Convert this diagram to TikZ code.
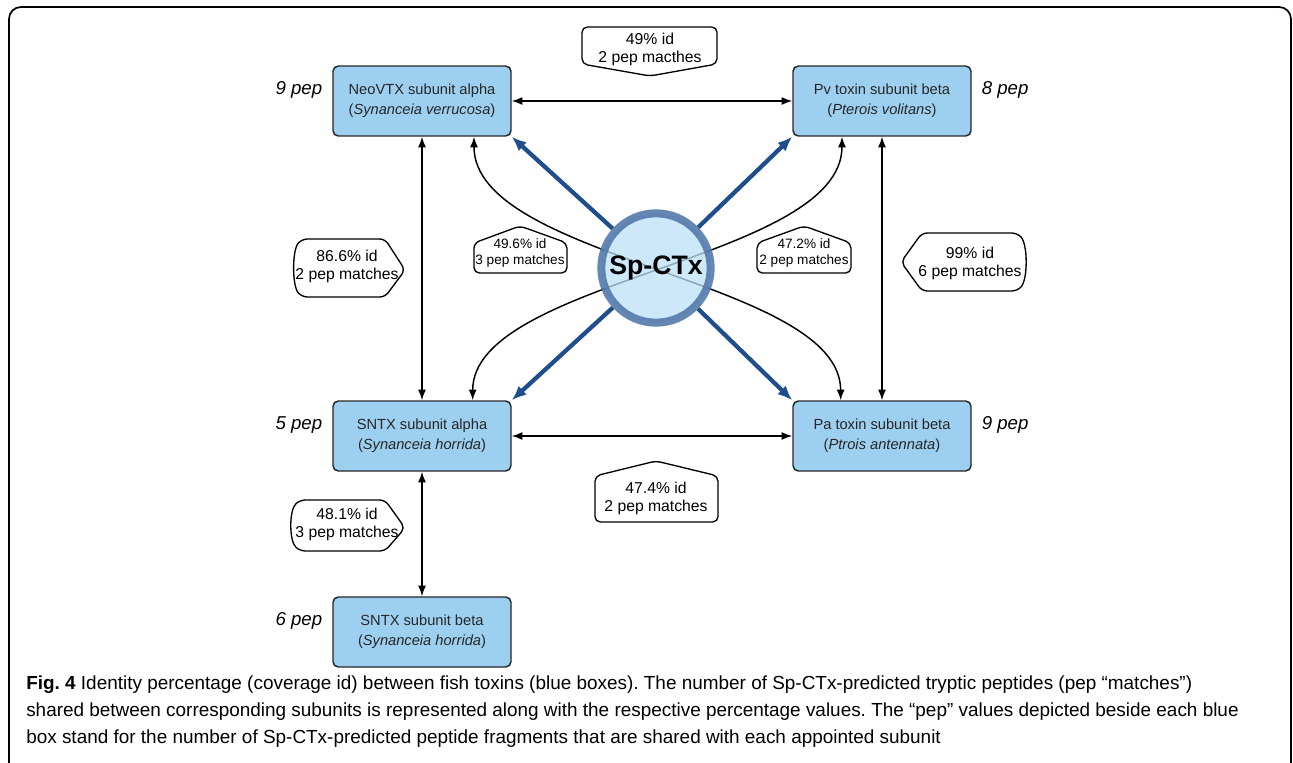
\documentclass[tikz,border=0pt]{standalone}
\usepackage{fontspec}
\setmainfont{Liberation Sans}
\usetikzlibrary{arrows.meta,positioning}
\frenchspacing
\definecolor{boxblue}{RGB}{157,208,240}
\definecolor{ctxfill}{RGB}{188,224,246}
\definecolor{ctxring}{RGB}{84,122,172}
\definecolor{darkblue}{RGB}{31,78,140}
\tikzset{
  toxin/.style={draw=black!85, line width=1.1pt, fill=boxblue, rounded corners=4pt,
    minimum width=133.5pt, minimum height=52.5pt, align=center,
    font=\fontsize{11}{15}\selectfont, text=black!85},
  pep/.style={font=\fontsize{14}{16}\selectfont\itshape},
  link/.style={<->, >={Latex[length=8pt,width=6pt]}, line width=1.1pt},
  hub/.style={->, >={Latex[length=11pt,width=9pt]}, line width=3.2pt, draw=darkblue},
  tag/.style={draw, line width=1pt, rounded corners=4pt, fill=white},
  tagtext/.style={align=center, font=\fontsize{11.8}{13.5}\selectfont},
  smalltag/.style={align=center, font=\fontsize{10.2}{12.5}\selectfont},
}
\begin{document}
\begin{tikzpicture}[x=0.75pt,y=-0.75pt]
  \clip (0,0) rectangle (1293,763);
  \draw[line width=1.3pt, rounded corners=9pt] (9,7) rectangle (1291,800);

  % toxin boxes
  \node[toxin] (neo) at (422,101) {NeoVTX subunit alpha\\(\textit{Synanceia verrucosa})};
  \node[toxin] (pv) at (882,101) {Pv toxin subunit beta\\(\textit{Pterois volitans})};
  \node[toxin] (snta) at (422,436) {SNTX subunit alpha\\(\textit{Synanceia horrida})};
  \node[toxin] (pa) at (882,436) {Pa toxin subunit beta\\(\textit{Ptrois antennata})};
  \node[toxin] (sntb) at (422,632) {SNTX subunit beta\\(\textit{Synanceia horrida})};

  \node[pep, left=4pt of neo, yshift=8pt] (pneo) {9 pep};
  \node[pep, right=4pt of pv, yshift=8pt] (ppv) {8 pep};
  \node[pep, left=4pt of snta, yshift=8pt] (psnta) {5 pep};
  \node[pep, right=4pt of pa, yshift=8pt] (ppa) {9 pep};
  \node[pep, left=4pt of sntb, yshift=8pt] (psntb) {6 pep};

  % identity links
  \draw[link] (neo) -- (pv);
  \draw[link] (snta) -- (pa);
  \draw[link] (neo) -- (snta);
  \draw[link] (pv) -- (pa);
  \draw[link] (snta) -- (sntb);
  \draw[link] ([xshift=39pt]neo.south) .. controls +(0,124) and +(0,-121) .. ([xshift=-31pt]pa.north);
  \draw[link] ([xshift=-30pt]pv.south) .. controls +(0,124) and +(0,-121) .. ([xshift=38pt]snta.north);

  % Sp-CTx hub
  \node[circle, draw=ctxring, draw opacity=0.9, line width=6pt, fill=ctxfill, fill opacity=0.75,
    text opacity=1, minimum size=82pt, font=\fontsize{20}{24}\selectfont\bfseries] (ctx) at (656,268) {Sp-CTx};
  \draw[hub] (ctx) -- (neo.south east);
  \draw[hub] (ctx) -- (pv.south west);
  \draw[hub] (ctx) -- (snta.north east);
  \draw[hub] (ctx) -- (pa.north west);

  % identity tags
  \draw[tag] (582,27) -- (717,27) -- (717,64) -- (650,76) -- (582,64) -- cycle;
  \node[tagtext] (t49) at (650,49) {49\% id\\2 pep macthes};

  \draw[tag] (385,239) -- (302,239) .. controls (292,250) and (292,286) .. (302,297) -- (385,297) -- (405,270) -- cycle;
  \node[tagtext] (t866) at (347,266) {86.6\% id\\2 pep matches};

  \draw[tag] (474,273) -- (474,243) -- (520,226) -- (567,243) -- (567,273) -- cycle;
  \node[smalltag] (t496) at (520,253) {49.6\% id\\3 pep matches};

  \draw[tag] (757,273) -- (757,243) -- (804,226) -- (851,243) -- (851,273) -- cycle;
  \node[smalltag] (t472) at (804,253) {47.2\% id\\2 pep matches};

  \draw[tag] (922,233) -- (1017,233) .. controls (1028,244) and (1028,280) .. (1017,291) -- (922,291) -- (901,262) -- cycle;
  \node[tagtext] (t99) at (970,263) {99\% id\\6 pep matches};

  \draw[tag] (595,522) -- (595,476) -- (656,461) -- (718,476) -- (718,522) -- cycle;
  \node[tagtext] (t474) at (656,498) {47.4\% id\\2 pep matches};

  \draw[tag] (385,500) -- (300,500) .. controls (289,510) and (289,541) .. (300,551) -- (385,551) -- (405,528) -- cycle;
  \node[tagtext] (t481) at (347,524) {48.1\% id\\3 pep matches};

  % caption
  \node[anchor=north west, align=left, inner sep=0pt, font=\fontsize{14.2}{20.25}\selectfont] (cap) at (26,676)
    {\textbf{Fig. 4} Identity percentage (coverage id) between fish toxins (blue boxes). The number of Sp-CTx-predicted tryptic peptides (pep “matches”)\\
     shared between corresponding subunits is represented along with the respective percentage values. The “pep” values depicted beside each blue\\
     box stand for the number of Sp-CTx-predicted peptide fragments that are shared with each appointed subunit};
\end{tikzpicture}
\end{document}
